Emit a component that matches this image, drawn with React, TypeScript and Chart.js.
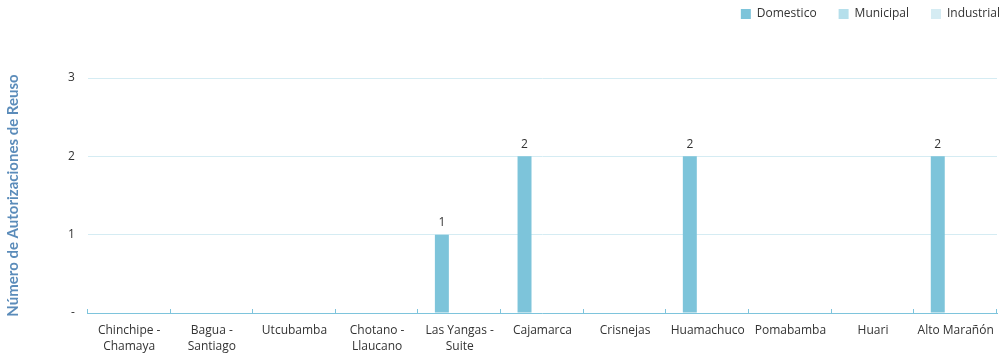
import React, { useEffect, useRef } from "react";
import { Chart, registerables } from "chart.js";

Chart.register(...registerables);

const categories: (string | string[])[] = [
  ["Chinchipe -", "Chamaya"],
  ["Bagua -", "Santiago"],
  "Utcubamba",
  ["Chotano -", "Llaucano"],
  ["Las Yangas -", "Suite"],
  "Cajamarca",
  "Crisnejas",
  "Huamachuco",
  "Pomabamba",
  "Huari",
  "Alto Marañón",
];

const domestico = [0, 0, 0, 0, 1, 2, 0, 2, 0, 0, 2];
const municipal = [0, 0, 0, 0, 0, 0, 0, 0, 0, 0, 0];
const industrial = [0, 0, 0, 0, 0, 0, 0, 0, 0, 0, 0];

const yTicks = [0, 1, 2, 3];
const yTickLabels = ["-", "1", "2", "3"];

const FONT = "'Open Sans', Lato, sans-serif";

const dataLabelPlugin = {
  id: "dataLabels",
  afterDatasetsDraw(chart: any) {
    const ctx = chart.ctx;
    ctx.save();
    ctx.font = `12px ${FONT}`;
    ctx.fillStyle = "#333333";
    ctx.textAlign = "center";
    ctx.textBaseline = "bottom";
    chart.data.datasets.forEach((ds: any, i: number) => {
      const meta = chart.getDatasetMeta(i);
      meta.data.forEach((el: any, j: number) => {
        const v = ds.data[j];
        if (v) ctx.fillText(String(v), el.x, el.y - 6);
      });
    });
    ctx.restore();
  },
};

const innerTicksPlugin = {
  id: "innerTicks",
  afterDraw(chart: any) {
    const x = chart.scales.x;
    const ctx = chart.ctx;
    ctx.save();
    ctx.strokeStyle = "#7ec4dc";
    ctx.lineWidth = 1;
    const n = chart.data.labels.length;
    const step = x.getPixelForValue(1) - x.getPixelForValue(0);
    for (let i = 0; i <= n; i++) {
      const px = i < n ? x.getPixelForValue(i) - step / 2 : x.right;
      const xx = Math.round(px) - 0.5;
      ctx.beginPath();
      ctx.moveTo(xx, x.top - 4);
      ctx.lineTo(xx, x.top);
      ctx.stroke();
    }
    ctx.restore();
  },
};

const legendSpacePlugin = {
  id: "legendSpace",
  beforeInit(chart: any) {
    const legend = chart.legend;
    if (!legend) return;
    const origFit = legend.fit;
    legend.fit = function () {
      origFit.call(this);
      this.height += 34;
    };
  },
  afterLayout(chart: any) {
    const legend = chart.legend;
    if (!legend) return;
    legend.left += 25;
    legend.right += 25;
    legend.top -= 14;
    legend.bottom -= 14;
  },
};

export default function App() {
  const ref = useRef<HTMLCanvasElement>(null);
  useEffect(() => {
    if (!ref.current) return;
    const chart = new Chart(ref.current, {
      type: "bar",
      data: {
        labels: categories,
        datasets: [
          { label: "Domestico", data: domestico, backgroundColor: "#7dc4da" },
          { label: "Municipal", data: municipal, backgroundColor: "#b5dfeb" },
          { label: "Industrial", data: industrial, backgroundColor: "#d5ecf3" },
        ],
      },
      options: {
        animation: false,
        responsive: false,
        maintainAspectRatio: false,
        layout: { padding: { top: 0, right: 8, left: 2, bottom: 0 } },
        datasets: { bar: { categoryPercentage: 0.65, barPercentage: 0.78 } },
        plugins: {
          legend: {
            position: "top",
            align: "end",
            labels: {
              boxWidth: 10,
              boxHeight: 10,
              color: "#333333",
              font: { family: FONT, size: 12 },
              padding: 22,
            },
          },
          tooltip: { enabled: false },
        },
        scales: {
          x: {
            grid: { display: false },
            border: { display: true, color: "#7ec4dc", width: 1 },
            ticks: {
              color: "#333333",
              font: { family: FONT, size: 12, lineHeight: 1.3333 },
              maxRotation: 0,
              autoSkip: false,
              padding: 2,
            },
          },
          y: {
            min: 0,
            max: 3,
            afterBuildTicks: (axis: any) => {
              axis.ticks = yTicks.map((v) => ({ value: v }));
            },
            grid: { color: "#d5ecf3", drawTicks: false },
            border: { display: false },
            ticks: {
              color: "#333333",
              font: { family: FONT, size: 12 },
              padding: 13,
              callback: (v: any) => yTickLabels[yTicks.indexOf(Number(v))] ?? "",
            },
            title: {
              display: true,
              text: "Número de Autorizaciones de Reuso",
              color: "#5b8cba",
              font: { family: "Lato, sans-serif", size: 15, weight: "bold" },
              padding: { top: 2, bottom: 33 },
            },
          },
        },
      },
      plugins: [dataLabelPlugin, innerTicksPlugin, legendSpacePlugin],
    });
    return () => chart.destroy();
  }, []);
  return (
    <div style={{ position: "fixed", left: 0, top: 0, width: 1005, height: 357, background: "#fff" }}>
      <canvas ref={ref} width={1005} height={357} />
    </div>
  );
}
